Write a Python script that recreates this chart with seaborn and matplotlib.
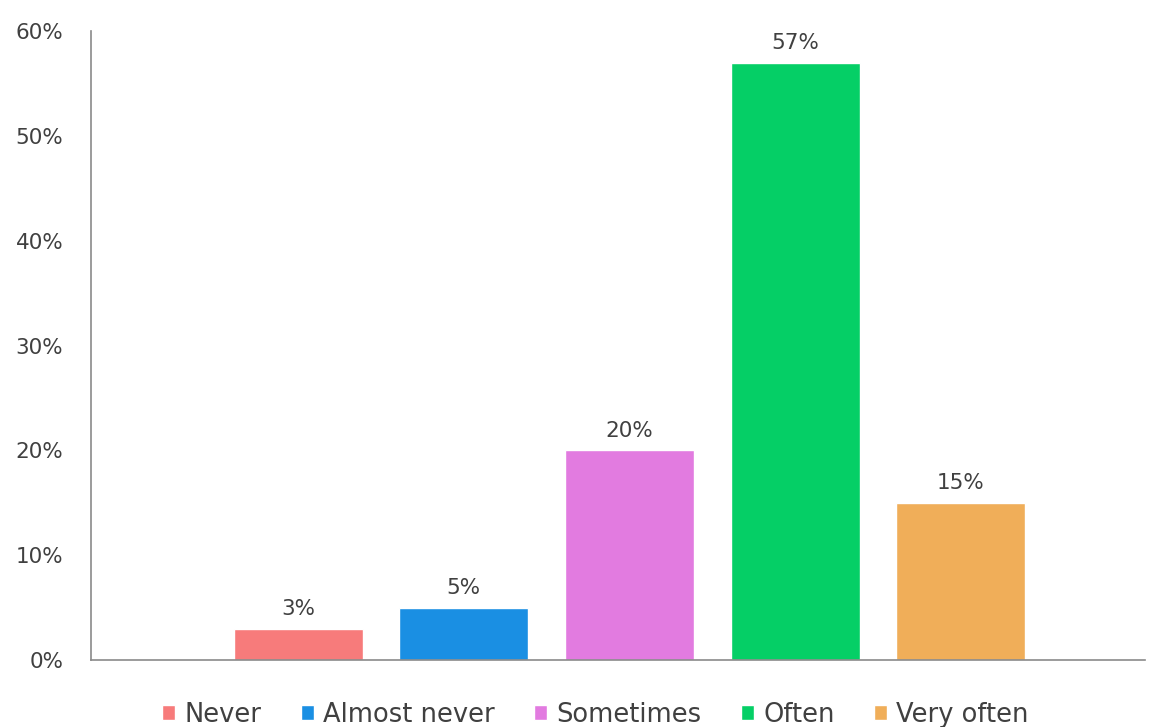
import matplotlib
matplotlib.use("Agg")
import matplotlib.pyplot as plt
import seaborn as sns
import pandas as pd
from matplotlib.patches import Patch
from matplotlib.ticker import FuncFormatter

categories = ["Never", "Almost never", "Sometimes", "Often", "Very often"]
values = [3, 5, 20, 57, 15]
colors = ["#F77B7B", "#1A8FE3", "#E27BE0", "#05CF66", "#F0AE59"]
yticks = [0, 10, 20, 30, 40, 50, 60]

sns.set_style("white")
plt.rcParams["font.family"] = ["DejaVu Sans"]

df = pd.DataFrame({"category": categories, "value": values})

fig = plt.figure(figsize=(11.61, 7.27), dpi=100)
ax = fig.add_axes([0.0784, 0.092, 0.9076, 0.865])

sns.barplot(data=df, x="category", y="value", hue="category",
            palette=colors, order=categories, hue_order=categories,
            width=0.78, dodge=False, legend=False, ax=ax, saturation=1)

text_color = "#404040"
for patch, v in zip(ax.patches, values):
    ax.text(patch.get_x() + patch.get_width() / 2, v + 0.9, f"{v}%",
            ha="center", va="bottom", fontsize=15.5, color=text_color)

ax.set_xlim(-1.25, 5.11)
ax.set_ylim(0, 60)
ax.set_yticks(yticks)
ax.yaxis.set_major_formatter(FuncFormatter(lambda y, _: f"{int(y)}%"))
ax.tick_params(axis="y", length=0, pad=20, labelsize=15.5, labelcolor=text_color)
ax.set_xticks([])
ax.set_xlabel("")
ax.set_ylabel("")

for side in ["top", "right"]:
    ax.spines[side].set_visible(False)
for side in ["left", "bottom"]:
    ax.spines[side].set_color("#8a8a8a")
    ax.spines[side].set_linewidth(1.2)

handles = [Patch(facecolor=c, label=l) for c, l in zip(colors, categories)]
fig.legend(handles=handles, loc="lower center", bbox_to_anchor=(0.513, -0.033),
           ncol=5, frameon=False, fontsize=18.5, labelcolor=text_color,
           handlelength=0.5, handleheight=0.5, handletextpad=0.35,
           columnspacing=1.55)

fig.savefig("out.png", dpi=100)
